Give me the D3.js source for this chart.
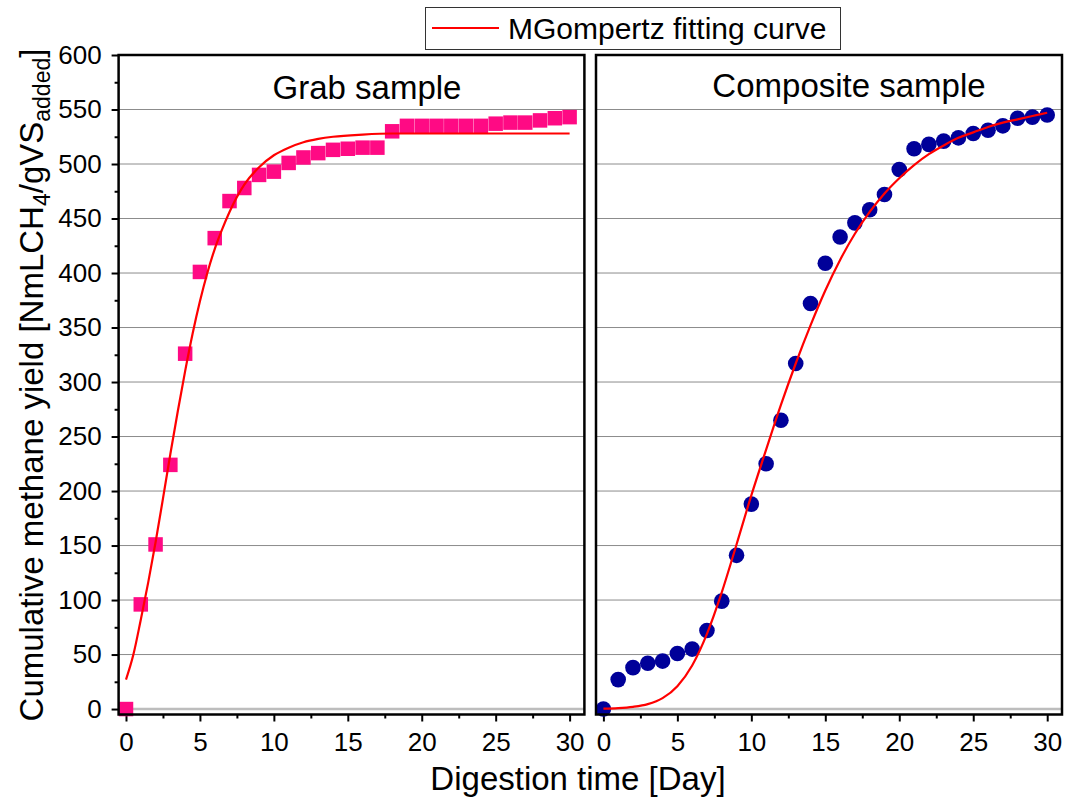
<!DOCTYPE html>
<html>
<head>
<meta charset="utf-8">
<script src="https://cdn.jsdelivr.net/npm/d3@7"></script>
<style>
  html, body { margin: 0; padding: 0; background: #fff; }
  svg { display: block; font-family: "Liberation Sans", Arial, sans-serif; }
</style>
</head>
<body>
<svg id="chart" width="1068" height="798"></svg>
<script>
// Digestion days (shared by both samples)
const days = d3.range(0, 31);

// Grab sample: measured cumulative methane yield
const grabYield = [0, 96, 151, 224, 326, 401, 432, 466, 478, 490, 493, 501, 506, 510, 513,
  514, 515, 515, 530, 535, 535, 535, 535, 535, 535, 537, 538, 538, 540, 542, 543];

// Composite sample: measured cumulative methane yield
const compYield = [0, 27, 38, 42, 44, 51, 55, 72, 99, 141, 188, 225, 265, 317, 372,
  409, 433, 446, 458, 472, 495, 514, 518, 521, 524, 528, 531, 535, 542, 543, 545];

// Modified Gompertz fitted curves (sampled along the day axis)
const grabFitDays = [0, 0.5, 1, 1.5, 2, 2.5, 3, 3.5, 4, 4.5, 5, 5.5, 6, 6.5, 7, 8, 9, 10, 11, 12, 13, 14, 16, 18, 20, 25, 30];
const grabFit = [27, 50, 82, 116, 153, 193, 234, 273, 310, 344, 374, 400, 422, 440, 456, 481, 497, 508, 515, 520, 523, 525, 527, 528, 528, 528, 528];

const compFitDays = d3.range(0, 31);
const compFit = [0.3, 0.8, 2, 4.5, 10, 21, 40, 69, 107, 151, 196, 238, 279, 317, 352,
  384, 412, 436, 456, 473, 487, 499, 509, 517, 524, 529, 534, 538, 541, 544, 547];

// Axis ticks
const yTicks = d3.range(0, 601, 50);
const yMinor = d3.range(25, 600, 50);
const xTicks = [0, 5, 10, 15, 20, 25, 30];
const xMinor = [2.5, 7.5, 12.5, 17.5, 22.5, 27.5];

// Text
const panelTitles = ["Grab sample", "Composite sample"];
const legendLabel = "MGompertz fitting curve";
const xTitle = "Digestion time [Day]";

const svg = d3.select("#chart");

const y = d3.scaleLinear().domain([-5, 600]).range([714.5, 55]);
const panels = [
  { x: d3.scaleLinear().domain([-0.5, 31]).range([118.6, 584.4]), title: panelTitles[0], titleX: 367, titleY: 99,
    values: grabYield, fitX: grabFitDays, fitY: grabFit, marker: "square", showY: true },
  { x: d3.scaleLinear().domain([-0.5, 31]).range([596, 1062]), title: panelTitles[1], titleX: 849, titleY: 97,
    values: compYield, fitX: compFitDays, fitY: compFit, marker: "circle", showY: false }
];

panels.forEach(p => {
  const [x0, x1] = p.x.range();
  const [yb, yt] = y.range();
  const g = svg.append("g");

  // horizontal grid
  g.selectAll("line.grid").data(yTicks.filter(v => v < 600)).enter().append("line")
    .attr("x1", x0).attr("x2", x1)
    .attr("y1", d => y(d)).attr("y2", d => y(d))
    .attr("stroke", d => d === 0 ? "#bdbdbd" : "#8c8c8c")
    .attr("stroke-width", d => d === 0 ? 2.5 : 1);

  // bottom axis (major + minor)
  const xAxis = g.append("g").attr("transform", `translate(0,${yb})`)
    .call(d3.axisBottom(p.x).tickValues(xTicks).tickSize(7).tickPadding(11));
  xAxis.select(".domain").remove();
  xAxis.selectAll("line").attr("stroke", "#000").attr("stroke-width", 2);
  xAxis.selectAll("text").attr("font-size", 26).attr("fill", "#000")
    .attr("font-family", "Liberation Sans, Arial, sans-serif");
  const xAxisMinor = g.append("g").attr("transform", `translate(0,${yb})`)
    .call(d3.axisBottom(p.x).tickValues(xMinor).tickSize(4).tickFormat(""));
  xAxisMinor.select(".domain").remove();
  xAxisMinor.selectAll("line").attr("stroke", "#000").attr("stroke-width", 2);

  if (p.showY) {
    const yAxis = g.append("g").attr("transform", `translate(${x0},0)`)
      .call(d3.axisLeft(y).tickValues(yTicks).tickSize(7).tickPadding(10));
    yAxis.select(".domain").remove();
    yAxis.selectAll("line").attr("stroke", "#000").attr("stroke-width", 2);
    yAxis.selectAll("text").attr("font-size", 26).attr("fill", "#000")
      .attr("font-family", "Liberation Sans, Arial, sans-serif");
    const yAxisMinor = g.append("g").attr("transform", `translate(${x0},0)`)
      .call(d3.axisLeft(y).tickValues(yMinor).tickSize(4).tickFormat(""));
    yAxisMinor.select(".domain").remove();
    yAxisMinor.selectAll("line").attr("stroke", "#000").attr("stroke-width", 2);
  }

  // measured points
  if (p.marker === "square") {
    const s = 14.5;
    g.selectAll("rect.pt").data(days).enter().append("rect")
      .attr("x", d => p.x(d) - s / 2).attr("y", (d, i) => y(p.values[i]) - s / 2)
      .attr("width", s).attr("height", s)
      .attr("fill", "#ff0a84");
  } else {
    g.selectAll("circle.pt").data(days).enter().append("circle")
      .attr("cx", d => p.x(d)).attr("cy", (d, i) => y(p.values[i]))
      .attr("r", 7.8)
      .attr("fill", "#000099");
  }

  // fitted curve
  const line = d3.line()
    .x((d, i) => p.x(p.fitX[i]))
    .y(d => y(d))
    .curve(d3.curveMonotoneX);
  g.append("path").datum(p.fitY)
    .attr("d", line)
    .attr("fill", "none")
    .attr("stroke", "#ff0000")
    .attr("stroke-width", 2.2);

  // frame
  g.append("rect")
    .attr("x", x0).attr("y", yt)
    .attr("width", x1 - x0).attr("height", yb - yt)
    .attr("fill", "none").attr("stroke", "#000").attr("stroke-width", 2.5);

  // panel title
  g.append("text")
    .attr("x", p.titleX)
    .attr("y", p.titleY)
    .attr("text-anchor", "middle")
    .attr("font-size", 33)
    .attr("fill", "#000")
    .text(p.title);
});

// legend
const legend = svg.append("g");
legend.append("rect")
  .attr("x", 425.5).attr("y", 7.5).attr("width", 415).attr("height", 42)
  .attr("fill", "#fff").attr("stroke", "#333").attr("stroke-width", 1);
legend.append("line")
  .attr("x1", 432).attr("x2", 499).attr("y1", 28).attr("y2", 28)
  .attr("stroke", "#ff0000").attr("stroke-width", 2.2);
legend.append("text")
  .attr("x", 508).attr("y", 39)
  .attr("font-size", 30).attr("fill", "#000")
  .text(legendLabel);

// x-axis title
svg.append("text")
  .attr("x", 578).attr("y", 790)
  .attr("text-anchor", "middle")
  .attr("font-size", 33).attr("fill", "#000")
  .text(xTitle);

// y-axis title with subscripts
const yt = svg.append("text")
  .attr("transform", "translate(43,385) rotate(-90)")
  .attr("text-anchor", "middle")
  .attr("font-size", 33).attr("fill", "#000");
yt.append("tspan").text("Cumulative methane yield [NmLCH");
yt.append("tspan").attr("font-size", 23).attr("dy", 7).text("4");
yt.append("tspan").attr("dy", -7).text("/gVS");
yt.append("tspan").attr("font-size", 23).attr("dy", 7).text("added");
yt.append("tspan").attr("dy", -7).text("]");
</script>
</body>
</html>
